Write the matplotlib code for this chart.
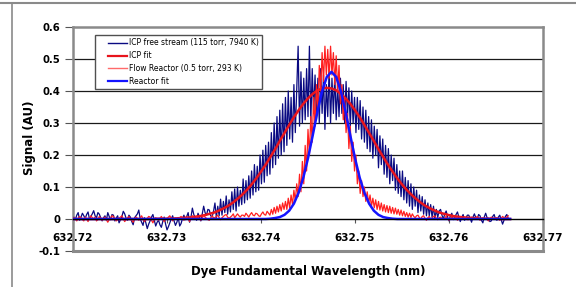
import numpy as np
import matplotlib
matplotlib.use("Agg")
import matplotlib.pyplot as plt
from matplotlib.lines import Line2D
from matplotlib.legend_handler import HandlerLine2D

# ---------------- data ----------------
# measured series share a wavelength grid: start + step * index
meas_start = 632.7201
meas_step = 0.00015

icp_free_stream = [
    0.005, -0.002, 0.012, 0.020, -0.004, 0.006, 0.018, 0.010, 0.002, 0.014, 0.022, 0.000, 0.008, 0.016, 0.026, 0.010, 0.004, 0.020, 0.015, 0.004,
    -0.006, 0.004, 0.010, -0.004, 0.020, 0.008, -0.002, 0.014, 0.012, -0.006, 0.003, 0.010, -0.012, -0.002, 0.008, 0.024, 0.016, 0.002, -0.004, 0.012,
    0.006, -0.008, -0.018, 0.004, 0.010, 0.016, 0.028, 0.000, -0.010, -0.020, 0.004, -0.012, -0.030, -0.016, -0.006, 0.006, 0.014, -0.004, -0.022, -0.010,
    -0.004, -0.018, -0.026, -0.008, 0.006, -0.016, -0.034, -0.024, -0.012, 0.000, 0.010, -0.006, -0.020, -0.010, 0.004, -0.022, -0.014, 0.002, 0.012, -0.002,
    0.008, 0.020, -0.010, 0.006, 0.034, 0.014, 0.004, -0.004, 0.018, 0.006, -0.006, 0.016, 0.040, 0.020, 0.012, 0.030, 0.028, 0.010, 0.006, 0.024,
    0.050, 0.005, 0.040, 0.010, 0.062, 0.012, 0.055, 0.020, 0.072, 0.015, 0.060, 0.022, 0.085, 0.030, 0.094, 0.025, 0.100, 0.040, 0.090, 0.045,
    0.125, 0.050, 0.120, 0.060, 0.135, 0.065, 0.150, 0.075, 0.170, 0.085, 0.165, 0.090, 0.200, 0.110, 0.215, 0.115, 0.230, 0.135, 0.240, 0.140,
    0.270, 0.160, 0.300, 0.170, 0.320, 0.190, 0.340, 0.200, 0.360, 0.210, 0.380, 0.230, 0.400, 0.250, 0.380, 0.240, 0.420, 0.270, 0.400, 0.540,
    0.290, 0.460, 0.300, 0.440, 0.310, 0.470, 0.320, 0.540, 0.300, 0.470, 0.330, 0.450, 0.310, 0.440, 0.300, 0.470, 0.330, 0.450, 0.280, 0.420,
    0.320, 0.470, 0.300, 0.440, 0.330, 0.450, 0.310, 0.420, 0.320, 0.440, 0.330, 0.420, 0.300, 0.430, 0.320, 0.410, 0.290, 0.400, 0.300, 0.380,
    0.270, 0.380, 0.280, 0.370, 0.250, 0.350, 0.240, 0.340, 0.220, 0.320, 0.210, 0.310, 0.190, 0.290, 0.200, 0.280, 0.160, 0.260, 0.170, 0.250,
    0.140, 0.230, 0.130, 0.220, 0.110, 0.200, 0.120, 0.190, 0.090, 0.170, 0.080, 0.150, 0.070, 0.150, 0.060, 0.130, 0.050, 0.120, 0.040, 0.110,
    0.030, 0.100, 0.040, 0.090, 0.020, 0.075, 0.025, 0.070, 0.015, 0.060, 0.010, 0.050, 0.010, 0.045, 0.005, 0.040, 0.000, 0.030, 0.005, 0.025,
    0.030, 0.012, 0.000, 0.016, 0.025, 0.006, -0.006, 0.010, 0.018, -0.002, 0.004, 0.014, 0.022, 0.006, -0.008, 0.004, 0.014, -0.004, 0.002, 0.012,
    0.012, 0.002, -0.010, 0.006, 0.016, 0.004, 0.000, 0.014, 0.010, -0.004, -0.012, 0.006, 0.018, 0.004, 0.002, -0.008, -0.006, 0.008, 0.014, 0.000,
    -0.004, 0.006, 0.012, -0.002, -0.016, -0.004, 0.008, 0.014, 0.002,
]

flow_reactor = [
    0.004, 0.000, -0.006, 0.002, 0.008, 0.004, -0.002, -0.006, 0.006, 0.000, -0.008, 0.002, 0.010, 0.004, 0.000, 0.006, -0.006, -0.002, 0.008, 0.002,
    -0.004, 0.002, 0.006, -0.002, -0.010, -0.002, 0.004, 0.010, 0.008, 0.000, -0.006, -0.002, 0.002, 0.006, 0.010, 0.000, -0.008, -0.002, 0.004, 0.008,
    0.000, -0.004, -0.010, 0.000, 0.006, 0.002, -0.004, 0.004, 0.010, 0.000, -0.008, -0.002, 0.002, 0.008, 0.006, -0.004, -0.012, -0.002, 0.004, 0.000,
    -0.004, 0.002, 0.008, 0.000, -0.008, -0.002, 0.002, 0.006, 0.010, 0.002, -0.006, 0.000, 0.004, 0.000, -0.002, 0.004, 0.008, 0.002, -0.004, 0.002,
    0.006, 0.000, -0.008, 0.002, 0.010, 0.004, 0.000, 0.008, 0.006, 0.000, -0.004, 0.004, 0.012, 0.006, 0.002, -0.002, -0.004, 0.004, 0.010, 0.004,
    0.004, 0.008, 0.012, 0.004, -0.002, 0.004, 0.008, 0.012, 0.014, 0.006, 0.002, 0.006, 0.010, 0.016, 0.004, 0.010, 0.016, 0.010, 0.006, 0.012,
    0.012, 0.008, 0.018, 0.012, 0.006, 0.014, 0.020, 0.012, 0.010, 0.018, 0.016, 0.010, 0.008, 0.016, 0.022, 0.014, 0.012, 0.024, 0.018, 0.012,
    0.030, 0.015, 0.036, 0.018, 0.040, 0.022, 0.045, 0.025, 0.050, 0.030, 0.055, 0.030, 0.065, 0.035, 0.075, 0.045, 0.090, 0.055, 0.110, 0.070,
    0.140, 0.085, 0.180, 0.110, 0.230, 0.150, 0.280, 0.200, 0.320, 0.240, 0.380, 0.290, 0.420, 0.340, 0.480, 0.400, 0.520, 0.430, 0.540, 0.450,
    0.530, 0.440, 0.540, 0.450, 0.520, 0.420, 0.510, 0.400, 0.480, 0.360, 0.420, 0.310, 0.380, 0.270, 0.330, 0.220, 0.290, 0.180, 0.240, 0.150,
    0.200, 0.110, 0.150, 0.080, 0.120, 0.070, 0.100, 0.055, 0.085, 0.050, 0.075, 0.040, 0.065, 0.035, 0.060, 0.030, 0.055, 0.028, 0.050, 0.025,
    0.045, 0.022, 0.042, 0.020, 0.040, 0.018, 0.036, 0.016, 0.034, 0.015, 0.030, 0.012, 0.028, 0.010, 0.024, 0.008, 0.020, 0.006, 0.018, 0.005,
    0.016, 0.008, 0.004, 0.010, 0.012, 0.004, 0.000, 0.008, 0.010, 0.002, -0.004, 0.004, 0.008, 0.000, 0.002, 0.008, 0.010, 0.002, -0.002, 0.004,
    0.006, 0.002, 0.000, 0.004, 0.008, 0.000, -0.004, 0.002, 0.006, 0.000, 0.002, 0.006, -0.004, 0.000, 0.006, 0.002, 0.000, 0.006, 0.004, -0.002,
    -0.002, 0.002, 0.006, 0.000, 0.000, 0.004, 0.008, 0.002, -0.004, 0.000, 0.004, 0.000, 0.002, -0.002, -0.006, 0.000, 0.006, 0.002, 0.000, 0.004,
    0.004, 0.000, -0.004, 0.002, 0.008, 0.004, 0.002, 0.006, 0.010,
]

# fit curves share a coarser grid
fit_start = 632.7200
fit_step = 0.0005

icp_fit = [
    0.000, 0.000, 0.000, 0.000, 0.000, 0.000, 0.000, 0.000, 0.000, 0.000,
    0.000, 0.000, 0.000, 0.000, 0.000, 0.000, 0.000, 0.000, 0.001, 0.001,
    0.001, 0.001, 0.002, 0.003, 0.004, 0.005, 0.007, 0.009, 0.012, 0.016,
    0.020, 0.026, 0.033, 0.041, 0.051, 0.063, 0.076, 0.091, 0.108, 0.127,
    0.148, 0.170, 0.194, 0.218, 0.244, 0.269, 0.294, 0.318, 0.340, 0.360,
    0.377, 0.391, 0.402, 0.408, 0.410, 0.408, 0.402, 0.391, 0.377, 0.360,
    0.340, 0.318, 0.294, 0.269, 0.244, 0.218, 0.194, 0.170, 0.148, 0.127,
    0.108, 0.091, 0.076, 0.063, 0.051, 0.041, 0.033, 0.026, 0.020, 0.016,
    0.012, 0.009, 0.007, 0.005, 0.004, 0.003, 0.002, 0.001, 0.001, 0.001,
    0.001, 0.000, 0.000, 0.000,
]

reactor_fit = [
    0.000, 0.000, 0.000, 0.000, 0.000, 0.000, 0.000, 0.000, 0.000, 0.000,
    0.000, 0.000, 0.000, 0.000, 0.000, 0.000, 0.000, 0.000, 0.000, 0.000,
    0.000, 0.000, 0.000, 0.000, 0.000, 0.000, 0.000, 0.000, 0.000, 0.000,
    0.000, 0.000, 0.000, 0.000, 0.000, 0.000, 0.000, 0.000, 0.000, 0.000,
    0.000, 0.000, 0.001, 0.003, 0.006, 0.013, 0.026, 0.048, 0.082, 0.129,
    0.190, 0.261, 0.335, 0.399, 0.444, 0.460, 0.444, 0.399, 0.335, 0.261,
    0.190, 0.129, 0.082, 0.048, 0.026, 0.013, 0.006, 0.003, 0.001, 0.000,
    0.000, 0.000, 0.000, 0.000, 0.000, 0.000, 0.000, 0.000, 0.000, 0.000,
    0.000, 0.000, 0.000, 0.000, 0.000, 0.000, 0.000, 0.000, 0.000, 0.000,
    0.000, 0.000, 0.000, 0.000,
]

series_labels = ["ICP free stream (115 torr, 7940 K)", "ICP fit",
                 "Flow Reactor (0.5 torr, 293 K)", "Reactor fit"]
x_ticks = [632.72, 632.73, 632.74, 632.75, 632.76, 632.77]
x_tick_labels = ["632.72", "632.73", "632.74", "632.75", "632.76", "632.77"]
y_ticks = [-0.1, 0, 0.1, 0.2, 0.3, 0.4, 0.5, 0.6]
y_tick_labels = ["-0.1", "0", "0.1", "0.2", "0.3", "0.4", "0.5", "0.6"]
grid_levels = [0.1, 0.2, 0.3, 0.4, 0.5]

# ---------------- plot ----------------
plt.rcParams['font.family'] = ['DejaVu Sans']

W, H = 576, 287
fig = plt.figure(figsize=(W / 100, H / 100), dpi=100)
fig.patch.set_facecolor('white')

ax = fig.add_axes([73 / W, 1 - 251 / H, 470 / W, 224 / H])

x_meas = meas_start + meas_step * np.arange(len(icp_free_stream))
x_fit = fit_start + fit_step * np.arange(len(icp_fit))

c_navy = '#0a0a82'
c_fit_red = '#e8141c'
c_flow = '#ff2020'
c_blue = '#1414ff'

for g in grid_levels:
    ax.axhline(g, color='#1a1a1a', lw=0.9, zorder=1)

ax.plot(x_meas, icp_free_stream, color=c_navy, lw=0.9, zorder=3)
ax.plot(x_fit, icp_fit, color=c_fit_red, lw=1.8, zorder=4)
ax.plot(x_meas, flow_reactor, color=c_flow, lw=0.9, zorder=5)
ax.plot(x_fit, reactor_fit, color=c_blue, lw=1.8, zorder=6)

ax.set_xlim(632.72, 632.77)
ax.set_ylim(-0.1, 0.6)

frame_c = '#8a8a8a'
for s in ['left', 'top', 'right']:
    ax.spines[s].set_color(frame_c)
    ax.spines[s].set_linewidth(1.8)
ax.spines['bottom'].set_position(('data', 0))
ax.spines['bottom'].set_color('black')
ax.spines['bottom'].set_linewidth(1.0)
ax.spines['bottom'].set_zorder(7)
ax.plot([632.72, 632.77], [-0.1, -0.1], color=frame_c, lw=2.2,
        clip_on=False, zorder=8, solid_capstyle='projecting')

ax.set_xticks(x_ticks)
ax.set_xticklabels(x_tick_labels, fontsize=7.5, fontweight='bold')
ax.set_yticks(y_ticks)
ax.set_yticklabels(y_tick_labels, fontsize=7.2, fontweight='bold')
ax.tick_params(axis='x', direction='out', length=3, width=0.8,
               color='#555555', pad=7)
ax.tick_params(axis='y', direction='out', length=6, width=0.8,
               color='#555555', pad=3)

fig.text(30 / W, 1 - 138 / H, 'Signal (AU)', rotation=90, ha='center',
         va='center', fontsize=8.5, fontweight='bold')
fig.text(308 / W, 1 - 271 / H, 'Dye Fundamental Wavelength (nm)',
         ha='center', va='center', fontsize=8.5, fontweight='bold')


class OffsetLine(HandlerLine2D):
    def create_artists(self, legend, orig_handle, xdescent, ydescent,
                       width, height, fontsize, trans):
        yy = (height - ydescent) / 2.0
        ln = Line2D([-xdescent + width * 0.33, -xdescent + width], [yy, yy])
        self.update_prop(ln, orig_handle, legend)
        ln.set_transform(trans)
        return [ln]


handles = [Line2D([], [], color=c_navy, lw=1.0),
           Line2D([], [], color=c_fit_red, lw=1.6),
           Line2D([], [], color='#ff6a6a', lw=1.0),
           Line2D([], [], color=c_blue, lw=1.6)]
leg = ax.legend(handles, series_labels, loc='upper left',
                bbox_to_anchor=(22 / 470, 1 - 8 / 224), borderaxespad=0,
                fontsize=5.5, frameon=True, fancybox=False, framealpha=1,
                edgecolor='#505050', labelspacing=0.5, handlelength=3.7,
                handletextpad=0.25, borderpad=0.45,
                handler_map={Line2D: OffsetLine()})
leg.get_frame().set_linewidth(1.0)
leg.set_zorder(10)

# outer chart-area border lines
fig.add_artist(Line2D([0, 1], [1 - 3 / H, 1 - 3 / H], color='#8a8a8a',
                      lw=1.5, transform=fig.transFigure))
fig.add_artist(Line2D([12 / W, 12 / W], [0, 1 - 3 / H], color='#8a8a8a',
                      lw=1.2, transform=fig.transFigure))

fig.savefig('out.png', dpi=100)
